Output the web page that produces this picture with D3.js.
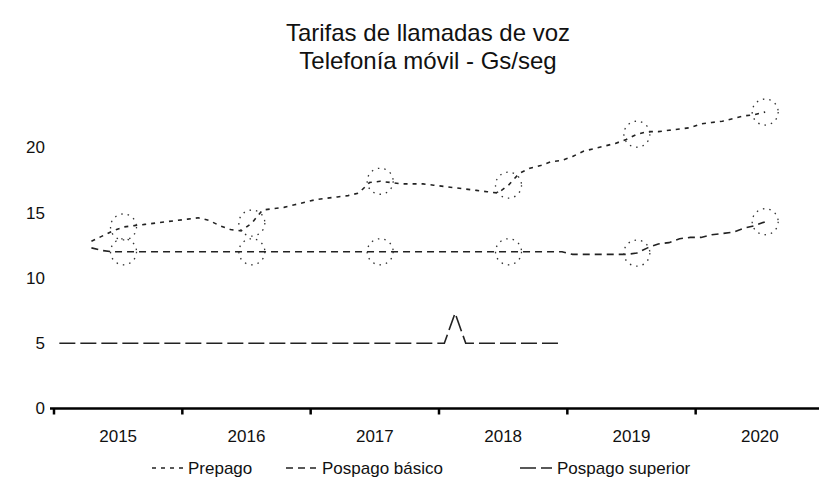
<!DOCTYPE html>
<html>
<head>
<meta charset="utf-8">
<title>Tarifas de llamadas de voz</title>
<script src="https://d3js.org/d3.v7.min.js"></script>
<style>
  body { margin: 0; background: #fff; }
  text { font-family: "Liberation Sans", Arial, sans-serif; fill: #111; }
</style>
</head>
<body>
<div id="chart"></div>
<script>
// data, one value per month (Jan..Dec) for each year
const years = ["2015", "2016", "2017", "2018", "2019", "2020"];
const yTicks = [0, 5, 10, 15, 20];
const seriesNames = ["Prepago", "Pospago básico", "Pospago superior"];

const prepago = [
  null, null, null, 12.8, 13.2, 13.6, 13.9, 14.0, 14.1, 14.2, 14.3, 14.4,
  14.5, 14.6, 14.4, 14.0, 13.7, 13.6, 14.2, 15.2, 15.3, 15.4, 15.6, 15.8,
  16.0, 16.1, 16.2, 16.3, 16.5, 17.3, 17.4, 17.3, 17.2, 17.2, 17.2, 17.1,
  17.0, 16.9, 16.8, 16.7, 16.6, 16.5, 17.1, 18.0, 18.4, 18.6, 18.9, 19.0,
  19.3, 19.7, 19.9, 20.1, 20.3, 20.6, 21.0, 21.2, 21.2, 21.3, 21.4, 21.5,
  21.8, 21.9, 22.0, 22.2, 22.4, 22.5, 22.7, null, null, null, null, null
];
const pospagoBasico = [
  null, null, null, 12.3, 12.1, 12.0, 12.0, 12.0, 12.0, 12.0, 12.0, 12.0,
  12.0, 12.0, 12.0, 12.0, 12.0, 12.0, 12.0, 12.0, 12.0, 12.0, 12.0, 12.0,
  12.0, 12.0, 12.0, 12.0, 12.0, 12.0, 12.0, 12.0, 12.0, 12.0, 12.0, 12.0,
  12.0, 12.0, 12.0, 12.0, 12.0, 12.0, 12.0, 12.0, 12.0, 12.0, 12.0, 12.0,
  11.8, 11.8, 11.8, 11.8, 11.8, 11.8, 11.9, 12.3, 12.6, 12.7, 13.0, 13.1,
  13.1, 13.3, 13.4, 13.5, 13.8, 14.0, 14.3, null, null, null, null, null
];
const pospagoSuperior = [
  5, 5, 5, 5, 5, 5, 5, 5, 5, 5, 5, 5,
  5, 5, 5, 5, 5, 5, 5, 5, 5, 5, 5, 5,
  5, 5, 5, 5, 5, 5, 5, 5, 5, 5, 5, 5,
  5, 7.3, 5, 5, 5, 5, 5, 5, 5, 5, 5, 5,
  null, null, null, null, null, null, null, null, null, null, null, null,
  null, null, null, null, null, null, null, null, null, null, null, null
];

const width = 819, height = 481;
const svg = d3.select("#chart").append("svg")
  .attr("width", width).attr("height", height);

// scales
const x = d3.scaleBand().domain(years).range([54, 824]);
const y = d3.scaleLinear().domain([0, 25]).range([408.5, 82]);
const xm = i => x(years[Math.floor(i / 12)]) + (i % 12 + 0.5) * x.bandwidth() / 12;

// title
const title = svg.append("text")
  .attr("x", 428).attr("y", 41)
  .attr("text-anchor", "middle")
  .style("font-size", "24px");
title.append("tspan").attr("x", 428).text("Tarifas de llamadas de voz");
title.append("tspan").attr("x", 428).attr("dy", 28).text("Telefonía móvil - Gs/seg");

// y axis: labels only
svg.append("g")
  .attr("transform", "translate(45,0)")
  .call(d3.axisLeft(y).tickValues(yTicks).tickSize(0).tickPadding(0))
  .call(g => g.select(".domain").remove())
  .selectAll("text").style("font-size", "17px");

// x axis
const xAxis = svg.append("g")
  .attr("transform", `translate(0,${y(0)})`)
  .call(d3.axisBottom(x).tickSize(0).tickPadding(21));
xAxis.select(".domain").remove();
xAxis.selectAll("text").style("font-size", "17px");
xAxis.append("line")
  .attr("x1", 50).attr("x2", width)
  .attr("stroke", "#000").attr("stroke-width", 2.5);
xAxis.selectAll(".tickmark")
  .data(years)
  .join("line")
  .attr("x1", d => x(d)).attr("x2", d => x(d))
  .attr("y1", 0).attr("y2", 6)
  .attr("stroke", "#000").attr("stroke-width", 2.5);

// lines
const series = [
  { name: seriesNames[0], values: prepago, dash: "4,5" },
  { name: seriesNames[1], values: pospagoBasico, dash: "7,5" },
  { name: seriesNames[2], values: pospagoSuperior, dash: "16,5" }
];
const line = d3.line()
  .defined(d => d != null)
  .x((d, i) => xm(i))
  .y(d => y(d));

svg.selectAll(".serie")
  .data(series)
  .join("path")
  .attr("class", "serie")
  .attr("fill", "none")
  .attr("stroke", "#222")
  .attr("stroke-width", 1.6)
  .attr("stroke-dasharray", d => d.dash)
  .attr("d", d => line(d.values));

// open markers at mid-year points of the two upper series
const marks = [];
series.slice(0, 2).forEach(s => {
  years.forEach((yr, k) => {
    const i = k * 12 + 6;
    if (s.values[i] != null) marks.push({ i: i, v: s.values[i] });
  });
});
svg.selectAll(".mark")
  .data(marks)
  .join("circle")
  .attr("class", "mark")
  .attr("cx", d => xm(d.i))
  .attr("cy", d => y(d.v))
  .attr("r", 13)
  .attr("fill", "none")
  .attr("stroke", "#333")
  .attr("stroke-width", 1.3)
  .attr("stroke-dasharray", "1.5,5");

// legend
const legendItems = [
  { s: series[0], x0: 152, x1: 184, tx: 188 },
  { s: series[1], x0: 286, x1: 316, tx: 322 },
  { s: series[2], x0: 520, x1: 552, tx: 557 }
];
const lg = svg.append("g").attr("transform", "translate(0,468)");
lg.selectAll("line")
  .data(legendItems)
  .join("line")
  .attr("x1", d => d.x0).attr("x2", d => d.x1)
  .attr("stroke", "#222").attr("stroke-width", 1.6)
  .attr("stroke-dasharray", d => d.s.dash);
lg.selectAll("text")
  .data(legendItems)
  .join("text")
  .attr("x", d => d.tx)
  .attr("dy", "0.35em")
  .style("font-size", "17px")
  .text(d => d.s.name);
</script>
</body>
</html>
